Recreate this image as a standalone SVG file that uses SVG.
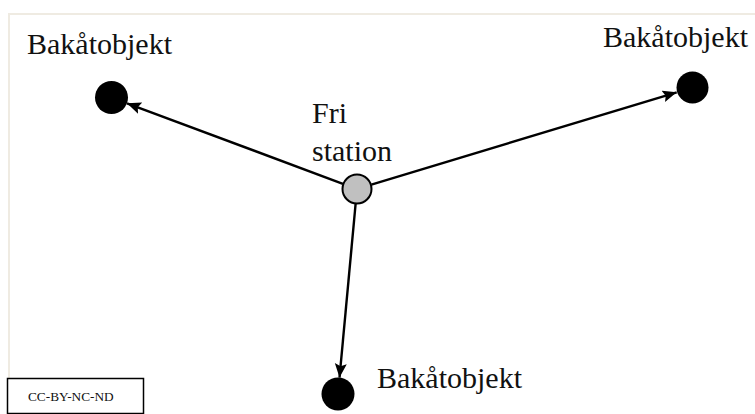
<svg xmlns="http://www.w3.org/2000/svg" width="755" height="414" viewBox="0 0 755 414">
  <style>
    .lbl { font-family: "Liberation Serif", "Times New Roman", serif; font-size: 30px; fill: #111; }
    .small { font-family: "Liberation Serif", "Times New Roman", serif; font-size: 13.3px; fill: #111; }
    .edge { stroke: #000; stroke-width: 2.4; fill: none; marker-end: url(#arrow); }
    .target { fill: #000; }
    .station { fill: #c0c0c0; stroke: #000; stroke-width: 2; }
    .frame { stroke: #efebe2; stroke-width: 2; fill: none; }
  </style>
  <defs>
    <marker id="arrow" markerUnits="userSpaceOnUse" markerWidth="16" markerHeight="14" refX="14" refY="6" orient="auto">
      <path d="M0,0 L14,6 L0,12 L2.5,6 Z" fill="#000"/>
    </marker>
  </defs>
  <rect width="755" height="414" fill="#fff"/>
  <!-- faint page frame -->
  <path class="frame" d="M755,14 L9,14 L9,378"/>

  <g id="connectors">
    <line class="edge" x1="342.9" y1="183.8" x2="127" y2="103.3"/>
    <line class="edge" x1="371.4" y1="184.7" x2="676.7" y2="92.3"/>
    <line class="edge" x1="355.6" y1="204" x2="339.5" y2="377.6"/>
  </g>

  <g id="station">
    <circle class="station" cx="357" cy="189" r="14.5"/>
    <text class="lbl" x="312" y="123">Fri</text>
    <text class="lbl" x="312" y="161">station</text>
  </g>

  <g id="target-left">
    <circle class="target" cx="111.5" cy="97.5" r="16.5"/>
    <text class="lbl" x="27" y="54">Bakåtobjekt</text>
  </g>

  <g id="target-right">
    <circle class="target" cx="692.5" cy="87.5" r="16"/>
    <text class="lbl" x="603" y="47">Bakåtobjekt</text>
  </g>

  <g id="target-bottom">
    <circle class="target" cx="338" cy="394" r="16.5"/>
    <text class="lbl" x="377" y="388">Bakåtobjekt</text>
  </g>

  <g id="license">
    <rect x="7.5" y="378.5" width="136" height="35" fill="#fff" stroke="#000" stroke-width="1.5"/>
    <text class="small" x="28" y="401">CC-BY-NC-ND</text>
  </g>
</svg>
